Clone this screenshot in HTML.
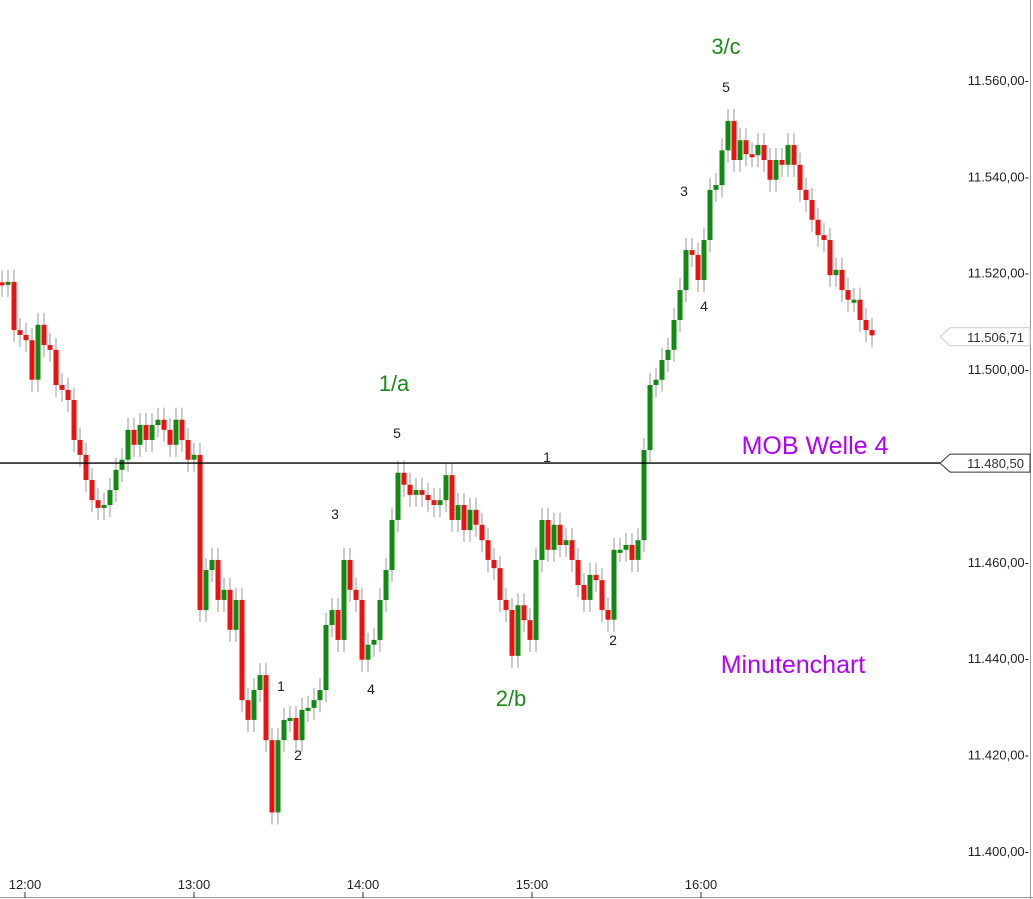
<!DOCTYPE html>
<html><head><meta charset="utf-8"><style>
html,body{margin:0;padding:0;background:#fff;}
svg{display:block;font-family:"Liberation Sans",sans-serif;}
</style></head><body>
<svg id="chart" width="1033" height="899" viewBox="0 0 1033 899" xmlns="http://www.w3.org/2000/svg">
<rect x="0" y="0" width="1033" height="899" fill="#fff"/>
<line x1="1030.5" y1="0" x2="1030.5" y2="899" stroke="#999"/>
<line x1="0" y1="897.5" x2="1033" y2="897.5" stroke="#999"/>
<g id="candles"></g>
<g id="yaxis"></g>
<g id="xaxis"></g>
<g id="level"></g>
<g id="ann"></g>
</svg>
<script>
const firstOpen = 11518;
const closes = [11517.5,11518.1,11508.1,11507.1,11506.0,11497.8,11509.2,11505.0,11504.0,11496.7,11495.7,11493.6,11485.3,11482.2,11477.0,11472.8,11471.2,11471.8,11474.9,11479.1,11481.2,11487.4,11484.3,11488.4,11485.3,11488.4,11489.5,11487.4,11484.3,11489.5,11485.3,11481.2,11482.2,11450.0,11458.3,11460.4,11452.1,11454.2,11445.9,11452.1,11431.3,11427.2,11433.4,11436.5,11423.0,11408.0,11423.0,11427.2,11427.6,11423.0,11429.3,11429.7,11431.3,11433.4,11446.9,11450.0,11443.8,11460.4,11454.2,11452.1,11439.7,11442.8,11443.8,11452.1,11458.3,11468.7,11478.5,11476.0,11473.9,11474.9,11473.9,11472.8,11471.8,11472.8,11478.0,11468.7,11471.8,11466.6,11470.8,11467.7,11464.5,11460.4,11458.7,11452.1,11450.0,11440.5,11451.0,11447.9,11443.8,11460.4,11468.7,11462.5,11467.7,11463.5,11464.5,11460.4,11455.2,11452.1,11457.3,11456.2,11450.0,11448.0,11462.5,11462.5,11463.5,11460.4,11464.5,11483.2,11496.7,11497.8,11501.9,11504.0,11510.2,11516.4,11524.7,11523.7,11518.5,11526.8,11537.2,11538.2,11545.4,11551.5,11543.4,11547.5,11544.6,11544.4,11546.5,11543.4,11539.3,11543.4,11542.4,11546.5,11542.4,11537.2,11535.1,11531.0,11527.8,11526.8,11519.5,11520.6,11516.4,11514.4,11514.4,11510.2,11508.1,11507.0];
const yTicks = [11560,11540,11520,11500,11460,11440,11420,11400];
const yTickLabels = ["11.560,00","11.540,00","11.520,00","11.500,00","11.460,00","11.440,00","11.420,00","11.400,00"];
const xTickMinutes = [720,780,840,900,960];
const xTickLabels = ["12:00","13:00","14:00","15:00","16:00"];
const mobLevel = 11480.5;
const lastPrice = 11506.71;

const NS="http://www.w3.org/2000/svg";
function y(p){return 80+(11560-p)*4.8187;}
function xt(m){return 25+(m-720)*169/60;}
function xi(i){return 2+i*6;}
function mk(tag,attrs,parent){const e=document.createElementNS(NS,tag);for(const k in attrs)e.setAttribute(k,attrs[k]);parent.appendChild(e);return e;}

const cg=document.getElementById('candles');
let prev=firstOpen;
closes.forEach((c,i)=>{
  const o=prev, up=c>=o, x=xi(i);
  const hi=Math.max(o,c)+2.5, lo=Math.min(o,c)-2.5;
  const w=mk('line',{x1:x,x2:x,y1:y(hi),y2:y(lo),stroke:'#999','stroke-width':1},cg);
  
  
  const top=y(Math.max(o,c)), h=Math.max(3,Math.abs(y(o)-y(c)));
  const b=mk('rect',{x:x-2.5,y:top,width:5,height:h,fill:up?'#108a10':'#f01010'},cg);
  
  
  prev=c;
});

const ya=document.getElementById('yaxis');
yTicks.forEach((v,i)=>{
  const t=mk('text',{x:1029,y:y(v)+5,'text-anchor':'end','font-size':13,fill:'#222'},ya);
  t.textContent=yTickLabels[i]+'-';
  
  
});
const xa=document.getElementById('xaxis');
xTickMinutes.forEach((m,i)=>{
  const x=xt(m);
  const t=mk('text',{x:x,y:889,'text-anchor':'middle','font-size':13,fill:'#222'},xa);
  t.textContent=xTickLabels[i];
  
  
  const l=mk('line',{x1:x,x2:x,y1:892,y2:898,stroke:'#333'},xa);
  
  
});

const lv=document.getElementById('level');
const ly=y(mobLevel);
const hl=mk('line',{x1:0,x2:940,y1:ly,y2:ly,stroke:'#000','stroke-width':1.3},lv);


function tag(p,label,stroke,name){
  const yy=y(p);
  const g=mk('g',{},lv);
  
  
  mk('path',{d:`M940 ${yy} L950 ${yy-9} L1030 ${yy-9} L1030 ${yy+9} L950 ${yy+9} Z`,fill:'#fff',stroke:stroke},g);
  const t=mk('text',{x:1024,y:yy+5,'text-anchor':'end','font-size':13,fill:'#333'},g);
  t.textContent=label;
}
tag(lastPrice,'11.506,71','#ccc','last-price-tag');
tag(mobLevel,'11.480,50','#333','mob-price-tag');
</script>
<script>
(function(){
const g=document.getElementById('ann');
const NS="http://www.w3.org/2000/svg";
const items=[
 ['3/c',726,54,22,'#1a8a1a','wave-label-3c'],['1/a',394,391,22,'#1a8a1a','wave-label-1a'],['2/b',511,706,22,'#1a8a1a','wave-label-2b'],
 ['MOB Welle 4',815,454,25,'#b000ff','mob-welle-4-label'],['Minutenchart',793,673,25,'#b000ff','minutenchart-label'],
 ['5',726,92,14,'#222','sub-wave-5-top'],['3',684,196,14,'#222','sub-wave-3-upper'],['4',704,311,14,'#222','sub-wave-4-upper'],
 ['5',397,438,14,'#222','sub-wave-5'],['3',335,519,14,'#222','sub-wave-3'],['4',371,694,14,'#222','sub-wave-4'],
 ['1',281,691,14,'#222','sub-wave-1'],['2',298,760,14,'#222','sub-wave-2'],['1',547,462,14,'#222','sub-wave-1-b'],['2',613,645,14,'#222','sub-wave-2-b']
];
items.forEach(a=>{
 const t=document.createElementNS(NS,'text');
 t.setAttribute('x',a[1]);t.setAttribute('y',a[2]);t.setAttribute('text-anchor','middle');
 t.setAttribute('font-size',a[3]);t.setAttribute('fill',a[4]);
 t.textContent=a[0];
 
 
 g.appendChild(t);
});
})();
</script>
</body></html>
